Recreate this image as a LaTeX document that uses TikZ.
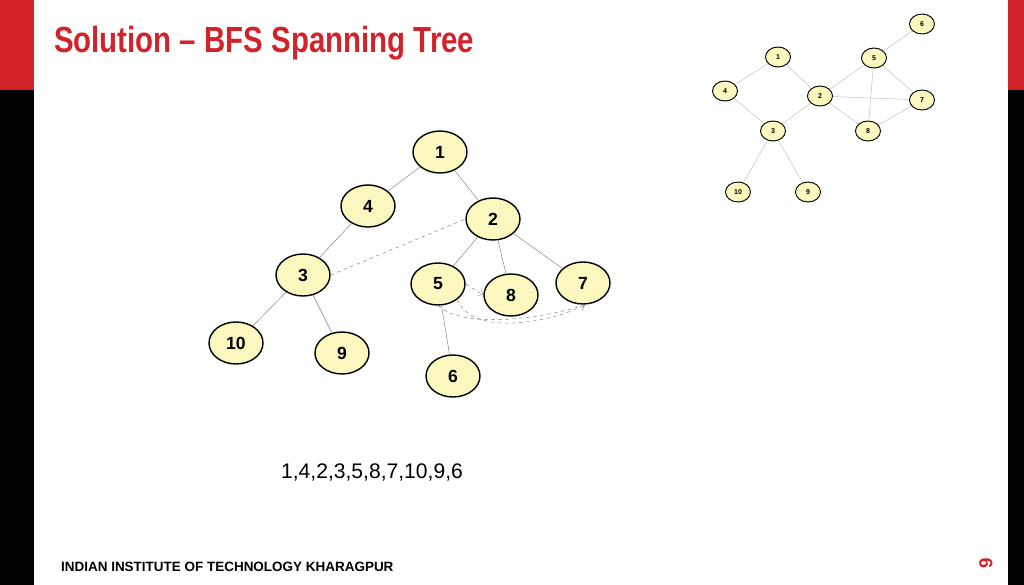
\documentclass[tikz,border=0pt]{standalone}
\usepackage{fontspec}
\setmainfont{Liberation Sans}
\usetikzlibrary{shapes.geometric}
\usetikzlibrary{arrows.meta}

\definecolor{brandred}{RGB}{210,35,42}
\definecolor{nodefill}{RGB}{250,248,190}

\tikzset{
  big/.style={ellipse,draw=black,line width=1.2pt,fill=nodefill,minimum width=54*0.03cm,minimum height=42*0.03cm,inner sep=0pt,font=\fontsize{15}{15}\selectfont\bfseries},
  small/.style={ellipse,draw=black,thick,fill=nodefill,minimum width=25*0.03cm,minimum height=20*0.03cm,inner sep=0pt,font=\fontsize{6}{6}\selectfont\bfseries},
  tree/.style={gray,thin},
  web/.style={gray!50,thin},
  back/.style={gray,dashed,thin},
  tip/.style={-{Straight Barb[length=4pt,width=6pt]}}
}

\begin{document}
\begin{tikzpicture}[x=0.03cm,y=-0.03cm]

\useasboundingbox (0,0) rectangle (1024,585);
\fill[brandred] (0,0) rectangle (34,90);
\fill[black] (0,90) rectangle (34,585);
\fill[brandred] (1008,0) rectangle (1024,90);
\fill[black] (1008,90) rectangle (1024,585);

\node[anchor=west,text=brandred,font=\fontsize{31}{31}\selectfont\bfseries] (title) at (50,43) {\scalebox{.81}[1]{Solution -- BFS Spanning Tree}};

% tree
\node[big] (t1) at (440,152) {1};
\node[big] (t4) at (368,206) {4};
\node[big] (t2) at (493,219) {2};
\node[big] (t3) at (303,275) {3};
\node[big] (t5) at (438,284) {5};
\node[big] (t8) at (511,295) {8};
\node[big] (t7) at (583,283) {7};
\node[big] (t10) at (236,343) {10};
\node[big] (t9) at (342,353) {9};
\node[big] (t6) at (453,376) {6};

\coordinate (hit) at (585,305);

\draw[tree] (t1)--(t4) (t1)--(t2) (t4)--(t3) (t3)--(t10) (t3)--(t9);
\draw[tree] (t2)--(t5) (t2)--(t8) (t2)--(t7) (t5)--(t6);

\draw[back] (t3.east)--(t2.west);
\draw[back,tip] (t5.east)--(t8.west);
\draw[back,tip] (t5.south east) .. controls (470,335) and (545,325) .. (hit);
\draw[back] (t5.south) .. controls (465,330) and (545,318) .. (hit);

% graph
\node[small] (g6) at (922,24) {6};
\node[small] (g1) at (778,57) {1};
\node[small] (g5) at (874,58) {5};
\node[small] (g4) at (725,91) {4};
\node[small] (g2) at (820,96) {2};
\node[small] (g7) at (922,100) {7};
\node[small] (g3) at (773,131) {3};
\node[small] (g8) at (868,131) {8};
\node[small] (g10) at (738,192) {10};
\node[small] (g9) at (808,192) {9};

\draw[web] (g1)--(g4) (g1)--(g2) (g4)--(g3) (g2)--(g3) (g2)--(g5) (g2)--(g7) (g2)--(g8);
\draw[web] (g5)--(g6) (g5)--(g7) (g5)--(g8) (g7)--(g8) (g3)--(g10) (g3)--(g9);

\node[font=\fontsize{18}{18}\selectfont] (order) at (372,472) {1,4,2,3,5,8,7,10,9,6};
\node[anchor=west,font=\fontsize{11.5}{11.5}\selectfont\bfseries] (footer) at (57,567) {INDIAN INSTITUTE OF TECHNOLOGY KHARAGPUR};
\node[rotate=90,text=brandred,font=\fontsize{16}{16}\selectfont\bfseries] (page) at (986,563) {9};

\end{tikzpicture}
\end{document}
